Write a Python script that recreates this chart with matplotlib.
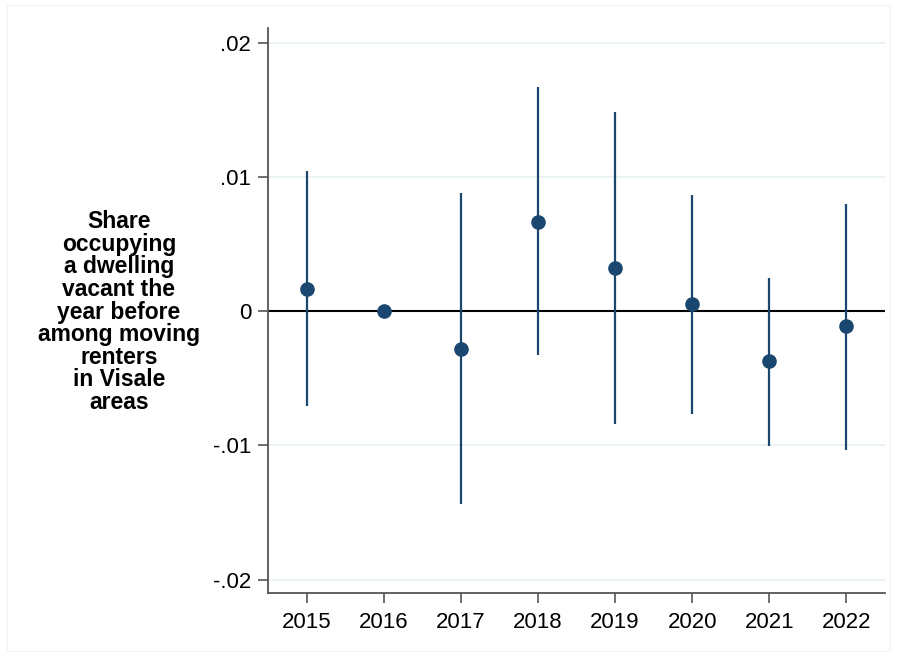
import matplotlib
matplotlib.use("Agg")
import matplotlib.pyplot as plt
from matplotlib.patches import Rectangle

years = [2015, 2016, 2017, 2018, 2019, 2020, 2021, 2022]
coef = [0.00167, 0.0, -0.0028, 0.00668, 0.00323, 0.00057, -0.00375, -0.00114]
ci_low = [-0.0071, 0.0, -0.0144, -0.0033, -0.00844, -0.00765, -0.01003, -0.01032]
ci_high = [0.01043, 0.0, 0.00882, 0.01669, 0.01482, 0.00869, 0.00244, 0.0080]
yticks = [-0.02, -0.01, 0.0, 0.01, 0.02]
ytick_labels = ["-.02", "-.01", "0", ".01", ".02"]
ylabel = "Share\noccupying\na dwelling\nvacant the\nyear before\namong moving\nrenters\nin Visale\nareas"

plt.rcParams['font.family'] = ['Liberation Sans', 'DejaVu Sans']

navy = "#1a476f"
W, H = 897, 656
fig = plt.figure(figsize=(W / 100, H / 100), dpi=100)
fig.patches.append(Rectangle((7 / W, 5 / H), (890 - 7) / W, (651 - 5) / H,
                             transform=fig.transFigure, fill=False,
                             edgecolor="#f3f3f3", linewidth=0.8))
ax = fig.add_axes([268 / W, 1 - 593 / H, (885 - 268) / W, (593 - 28) / H])

for yt in yticks:
    if yt != 0:
        ax.axhline(yt, color="#eaf2f3", linewidth=1.5, zorder=0)
ax.axhline(0, color="black", linewidth=1.5, zorder=1)

for x, lo, hi in zip(years, ci_low, ci_high):
    if hi != lo:
        ax.vlines(x, lo, hi, color=navy, linewidth=1.6, zorder=2)
ax.plot(years, coef, "o", color=navy, markersize=9.5, zorder=3)

ax.set_xlim(2014.5, 2022.5)
ax.set_ylim(-0.0210, 0.0211)
ax.set_xticks(years)
ax.set_xticklabels([str(y) for y in years])
ax.set_yticks(yticks)
ax.set_yticklabels(ytick_labels)
ax.tick_params(axis="both", labelsize=16, length=7, width=1.2,
               color="#555555")
ax.tick_params(axis="x", pad=7)
ax.tick_params(axis="y", pad=5)
for s in ["top", "right"]:
    ax.spines[s].set_visible(False)
for s in ["left", "bottom"]:
    ax.spines[s].set_color("#555555")
    ax.spines[s].set_linewidth(1.3)

ax.set_ylabel(ylabel, rotation=0, fontsize=16.5, fontweight="bold",
              ha="center", va="center", linespacing=0.98)
ax.yaxis.set_label_coords((119 - 268) / (885 - 268), (593 - 312) / (593 - 28))

fig.savefig("out.png", dpi=100)
